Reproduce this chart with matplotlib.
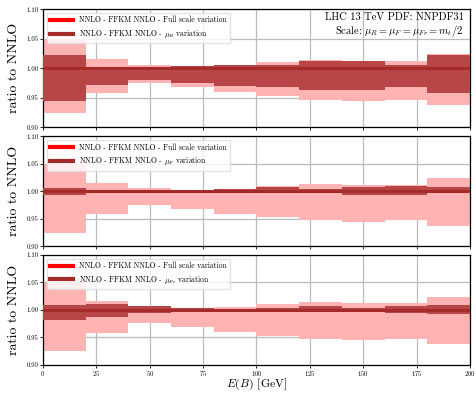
import matplotlib as mpl
import matplotlib.pyplot as plt
import numpy as np

params = {
    "font.family": "serif",
    "font.serif": "cmr10",
    "mathtext.fontset": "cm",
    "axes.formatter.use_mathtext": True,
    "font.size": 6,
    "axes.unicode_minus": False,
}
mpl.rcParams.update(params)

edges = [0, 20, 40, 60, 80, 100, 120, 140, 160, 180, 200]

# full scale variation envelope (same in all panels)
full_up = [1.049, 1.016, 1.006, 1.003, 1.005, 1.010, 1.014, 1.012, 1.012, 1.024]
full_dn = [0.924, 0.958, 0.975, 0.968, 0.959, 0.953, 0.947, 0.944, 0.947, 0.937]

# single scale variations
muR_up = [1.022, 1.002, 1.002, 1.003, 1.005, 1.006, 1.013, 1.012, 1.005, 1.022]
muR_dn = [0.945, 0.972, 0.980, 0.975, 0.970, 0.968, 0.963, 0.963, 0.969, 0.958]

muF_up = [1.006, 1.002, 1.002, 1.002, 1.004, 1.007, 1.005, 1.008, 1.009, 1.008]
muF_dn = [0.993, 0.998, 0.998, 0.998, 0.997, 0.997, 0.997, 0.994, 0.993, 0.996]

muFr_up = [1.009, 1.010, 1.006, 1.004, 1.002, 1.003, 1.007, 1.003, 1.007, 1.009]
muFr_dn = [0.981, 0.987, 0.994, 0.997, 0.998, 0.997, 0.996, 0.997, 0.995, 0.993]

central = [1.0] * 10

labels = [r"$\mu_R$", r"$\mu_F$", r"$\mu_{Fr}$"]
ups = [muR_up, muF_up, muFr_up]
dns = [muR_dn, muF_dn, muFr_dn]

pink = "#ffb3b3"
dark = "#b84646"
brown = "#a52a2a"


def step(vals):
    return np.append(vals, vals[-1])


fig = plt.figure(figsize=(4.76, 3.93), dpi=100)
boxes = [
    [0.0903, 0.676, 0.897, 0.3006],
    [0.0903, 0.3735, 0.897, 0.2795],
    [0.0903, 0.0725, 0.897, 0.2785],
]

for i, box in enumerate(boxes):
    ax = fig.add_axes(box)
    ax.fill_between(edges, step(full_dn), step(full_up), step="post",
                    color=pink, lw=0, zorder=2)
    ax.fill_between(edges, step(dns[i]), step(ups[i]), step="post",
                    color=dark, lw=0, zorder=3)
    ax.step(edges, step(central), where="post", color=brown, lw=2.2, zorder=4)

    ax.set_xlim(0, 200)
    ax.set_ylim(0.90, 1.10)
    ax.set_xticks(np.arange(0, 201, 25))
    ax.set_yticks([0.90, 0.95, 1.00, 1.05, 1.10])
    ax.yaxis.set_major_formatter(mpl.ticker.FormatStrFormatter("%.2f"))
    ax.tick_params(labelsize=4.8, length=2.5, width=0.6, pad=0.8)
    ax.grid(True, color="#bbbbbb", lw=0.9, zorder=1)
    ax.set_axisbelow(True)
    for sp in ax.spines.values():
        sp.set_linewidth(0.9)
    ax.set_ylabel("ratio to NNLO", fontsize=10, va="center")
    ax.yaxis.set_label_coords(-0.068, 0.5)
    if i < 2:
        ax.tick_params(labelbottom=False)
    else:
        ax.set_xlabel(r"$E(B)$ [GeV]", fontsize=8.5, va="bottom")
        ax.xaxis.set_label_coords(0.5, -0.255)

    h1, = ax.plot([], [], color="red", lw=3)
    h2, = ax.plot([], [], color=brown, lw=3)
    ax.legend([h1, h2],
              ["NNLO - FFKM NNLO - Full scale variation",
               "NNLO - FFKM NNLO - " + labels[i] + " variation"],
              loc="upper left", fontsize=5.5, handlelength=3,
              framealpha=0.8, edgecolor="#dddddd", fancybox=False)

    if i == 0:
        ax.text(0.985, 0.97, "LHC 13 TeV PDF: NNPDF31\n"
                r"Scale: $\mu_R = \mu_F = \mu_{Fr} = m_t/2$",
                transform=ax.transAxes, ha="right", va="top", fontsize=7.5,
                linespacing=1.1, zorder=10)

fig.savefig("out.png", dpi=100)
